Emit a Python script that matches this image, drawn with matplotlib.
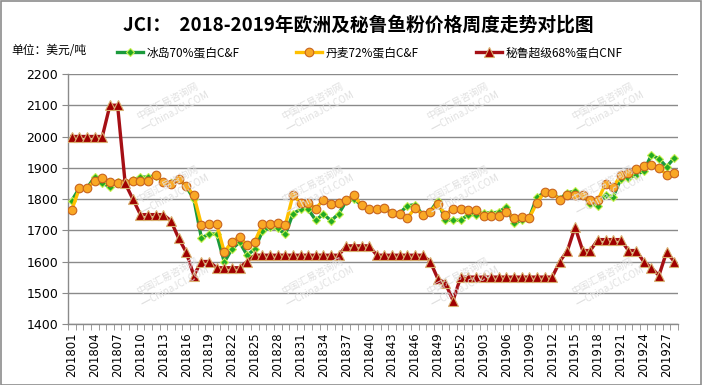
import numpy as np
import matplotlib
matplotlib.use("Agg")
import matplotlib.pyplot as plt
from matplotlib.patches import Rectangle

plt.rcParams['font.family'] = ['Noto Sans CJK SC', 'DejaVu Sans']

weeks_2018 = [f"2018{w:02d}" for w in range(1, 53)]
weeks_2019 = [f"2019{w:02d}" for w in range(1, 29)]
categories = weeks_2018 + weeks_2019

iceland = [1795, 1835, 1835, 1870, 1850, 1840, 1855, 1850, 1860, 1870,
           1870, 1875, 1855, 1850, 1865, 1840, 1800, 1675, 1688, 1688,
           1598, 1640, 1662, 1620, 1640, 1697, 1710, 1706, 1687, 1753,
           1767, 1767, 1732, 1752, 1730, 1753, 1793, 1800, 1780, 1767,
           1767, 1770, 1755, 1755, 1778, 1782, 1750, 1760, 1795, 1732,
           1732, 1732, 1750, 1750, 1756, 1755, 1758, 1775, 1722, 1732,
           1740, 1806, 1820, 1820, 1800, 1820, 1825, 1814, 1785, 1778,
           1814, 1806, 1865, 1867, 1878, 1889, 1940, 1929, 1903, 1931]

denmark = [1765, 1835, 1835, 1858, 1868, 1855, 1852, 1852, 1858, 1857,
           1857, 1876, 1855, 1849, 1865, 1842, 1812, 1717, 1720, 1720,
           1630, 1664, 1680, 1652, 1664, 1719, 1720, 1724, 1716, 1812,
           1788, 1788, 1769, 1798, 1785, 1788, 1798, 1812, 1780, 1767,
           1767, 1770, 1755, 1753, 1740, 1770, 1750, 1760, 1785, 1750,
           1769, 1769, 1764, 1764, 1745, 1745, 1745, 1760, 1740, 1742,
           1740, 1788, 1822, 1820, 1798, 1812, 1814, 1812, 1796, 1796,
           1849, 1838, 1876, 1883, 1895, 1905, 1910, 1900, 1878, 1884]

peru = [2000, 2000, 2000, 2000, 2000, 2100, 2100, 1850, 1800, 1750,
        1750, 1750, 1750, 1730, 1675, 1630, 1555, 1600, 1600, 1580,
        1580, 1580, 1580, 1600, 1620, 1620, 1620, 1620, 1620, 1620,
        1620, 1620, 1620, 1620, 1620, 1620, 1650, 1650, 1650, 1650,
        1620, 1620, 1620, 1620, 1620, 1620, 1620, 1600, 1545, 1530,
        1475, 1550, 1550, 1550, 1550, 1550, 1550, 1550, 1550, 1550,
        1550, 1550, 1550, 1550, 1600, 1635, 1710, 1635, 1635, 1670,
        1670, 1670, 1670, 1635, 1635, 1600, 1580, 1555, 1630, 1600]

series_names = ["冰岛70%蛋白C&F", "丹麦72%蛋白C&F", "秘鲁超级68%蛋白CNF"]
title = "JCI：  2018-2019年欧洲及秘鲁鱼粉价格周度走势对比图"
unit = "单位：美元/吨"

W, H = 702, 385
fig = plt.figure(figsize=(W / 100, H / 100), dpi=100)
fig.patch.set_facecolor("white")
fig.add_artist(Rectangle((0.5 / W, 0.5 / H), 1 - 1.5 / W, 1 - 1.5 / H,
                         transform=fig.transFigure, fill=False,
                         edgecolor="#8c8c8c", linewidth=1.2))

ax = fig.add_axes([68 / W, 1 - 324 / H, (678 - 68) / W, (324 - 74) / H])
x = np.arange(len(categories))

# watermarks
for cy in [107, 190, 282]:
    for cx in [170, 315, 460, 605]:
        fig.text(cx / W, 1 - cy / H, "中国汇易咨询网\n  ━ChinaJCI.COM",
                 rotation=28, ha="center", va="center", fontsize=7,
                 color="#e0e0e0", zorder=0, linespacing=1.4)

l1, = ax.plot(x, iceland, color="#1b9a3c", linewidth=2.4, marker="D",
              markersize=4.5, markerfacecolor="#22aa22",
              markeredgecolor="#c8f050", markeredgewidth=0.8, zorder=3)
l2, = ax.plot(x, denmark, color="#ffc000", linewidth=2.4, marker="o",
              markersize=6.2, markerfacecolor="#f9a825",
              markeredgecolor="#c8641e", markeredgewidth=0.8, zorder=4)
l3, = ax.plot(x, peru, color="#a50f15", linewidth=2.4, marker="^",
              markersize=6.5, markerfacecolor="#a00000",
              markeredgecolor="#d8b070", markeredgewidth=0.8, zorder=5)

ax.set_xlim(-0.5, len(categories) - 0.5)
ax.set_ylim(1400, 2200)
ax.set_yticks(np.arange(1400, 2201, 100))
ax.yaxis.grid(True, color="#8a8a8a", linewidth=1.0)
ax.set_axisbelow(True)
for s in ["top", "right"]:
    ax.spines[s].set_visible(False)
for s in ["left", "bottom"]:
    ax.spines[s].set_color("#8a8a8a")
    ax.spines[s].set_linewidth(1.0)
ax.tick_params(axis="y", labelsize=9, length=4, color="#8a8a8a", pad=3,
               labelfontfamily="DejaVu Sans")
ax.set_yticklabels([str(v) for v in range(1400, 2201, 100)])

major = x[::3]
ax.set_xticks(major)
ax.set_xticklabels([categories[i] for i in major], rotation=90,
                   fontsize=8.5, fontfamily="DejaVu Sans")
ax.set_xticks(np.arange(-0.5, len(categories) + 0.5, 1), minor=True)
ax.tick_params(axis="x", which="major", length=0, pad=6)
ax.tick_params(axis="x", which="minor", length=4, color="#8a8a8a")

fig.text(0.51, 1 - 25 / H, title, ha="center", va="center",
         fontsize=13.5, fontweight="bold")
fig.text(11 / W, 1 - 50 / H, unit, ha="left", va="center", fontsize=8.5)

fig.legend([l1, l2, l3], series_names, loc="center left",
           bbox_to_anchor=(117 / W, 1 - 53 / H), ncol=3, frameon=False,
           fontsize=8.5, handlelength=2.2, handletextpad=0.3,
           columnspacing=4.8, borderaxespad=0, borderpad=0)

fig.savefig("out.png", dpi=100)
